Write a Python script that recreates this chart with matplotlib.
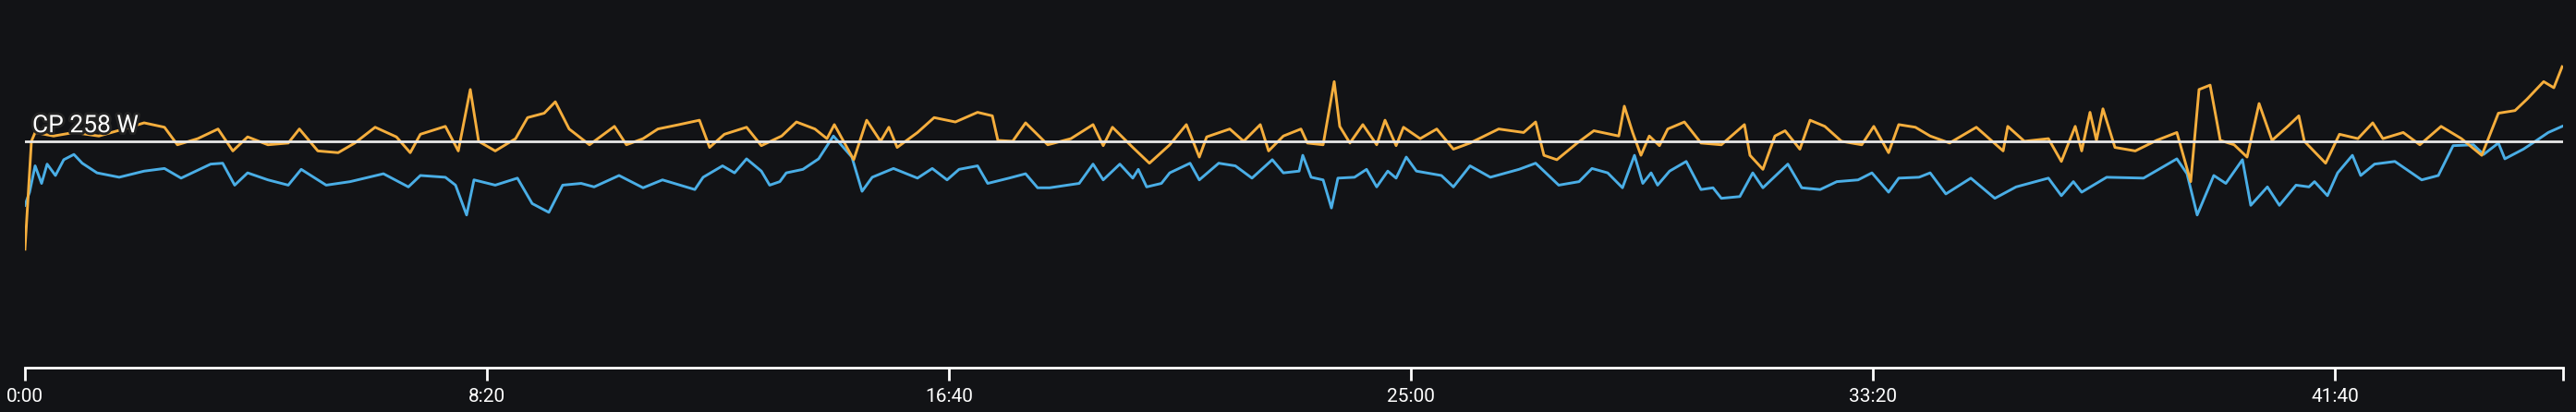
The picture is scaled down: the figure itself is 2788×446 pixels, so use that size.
import matplotlib
matplotlib.use("Agg")
import matplotlib.pyplot as plt
import matplotlib.patheffects as pe
import numpy as np

CP = 258
x_end = 2747

# power (orange), seconds / watts
power_t = [0, 7, 11, 31, 53, 80, 107, 129, 151, 165, 187, 209, 225, 241, 263, 285, 297, 317, 339, 357,
           379, 402, 417, 428, 455, 469, 482, 491, 509, 531, 544, 562, 574, 589, 611, 638, 651, 669,
           685, 708, 730, 741, 757, 781, 797, 819, 835, 855, 868, 876, 897, 911, 926, 935, 944, 966,
           984, 1007, 1031, 1047, 1053, 1069, 1083, 1107, 1132, 1156, 1167, 1177, 1199, 1217, 1239,
           1257, 1271, 1279, 1304, 1319, 1337, 1346, 1362, 1381, 1388, 1405, 1417, 1423, 1434, 1448,
           1463, 1472, 1484, 1492, 1510, 1528, 1546, 1564, 1595, 1622, 1635, 1644, 1658, 1680, 1698,
           1725, 1731, 1740, 1749, 1758, 1769, 1778, 1796, 1814, 1836, 1861, 1867, 1881, 1894, 1905,
           1921, 1932, 1948, 1966, 1988, 2001, 2017, 2028, 2046, 2062, 2083, 2112, 2141, 2146, 2164,
           2190, 2204, 2219, 2226, 2235, 2242, 2249, 2262, 2284, 2307, 2329, 2344, 2353, 2365, 2376,
           2391, 2405, 2418, 2432, 2449, 2461, 2467, 2490, 2505, 2525, 2541, 2552, 2574, 2592, 2615,
           2637, 2659, 2677, 2695, 2708, 2726, 2737, 2746]
power_w = [135, 258, 268, 264, 268, 264, 272, 279, 274, 254, 261, 272, 247, 263, 254, 256, 272, 247, 245, 256,
           274, 263, 245, 266, 275, 247, 317, 258, 247, 261, 285, 290, 303, 272, 254, 275, 254, 261,
           272, 277, 282, 251, 266, 274, 253, 264, 280, 272, 261, 277, 237, 282, 258, 274, 251, 268,
           285, 280, 291, 287, 259, 258, 279, 254, 261, 277, 253, 274, 251, 233, 254,
           277, 240, 263, 272, 258, 277, 247, 264, 272, 256, 254, 326, 275, 256, 277,
           254, 282, 253, 274, 261, 272, 249, 256, 272, 268, 280, 242, 237, 256, 270,
           264, 298, 268, 242, 264, 253, 272, 280, 256, 254, 277, 242, 226, 264, 270,
           249, 282, 275, 258, 254, 275, 245, 277, 274, 264, 256, 274, 247, 275, 258,
           261, 235, 275, 247, 291, 259, 295, 251, 247, 259, 268, 212, 317, 322, 259,
           254, 240, 301, 259, 275, 287, 258, 233, 266, 261, 279, 261, 268, 254, 275,
           261, 242, 290, 293, 306, 326, 319, 343]

# second series (blue)
blue_t = [0, 5, 11, 18, 24, 33, 42, 53, 62, 78, 102, 129, 151, 169, 201, 214, 227, 241, 263, 285, 299,
          326, 352, 388, 415, 428, 455, 466, 478, 486, 509, 533, 549, 567, 582, 602, 616, 643, 669,
          690, 725, 734, 755, 768, 781, 797, 806, 817, 824, 842, 859, 875, 895, 906, 917, 940, 966,
          982, 998, 1011, 1031, 1042, 1065, 1083, 1096, 1109, 1141, 1156, 1167, 1185, 1199, 1205,
          1214, 1230, 1239, 1261, 1271, 1292, 1310, 1328, 1350, 1362, 1379, 1383, 1392, 1405, 1414,
          1421, 1439, 1452, 1463, 1475, 1484, 1495, 1506, 1533, 1546, 1564, 1586, 1617, 1635, 1660,
          1682, 1696, 1713, 1729, 1742, 1751, 1760, 1767, 1780, 1798, 1814, 1827, 1836, 1856, 1870,
          1881, 1908, 1923, 1943, 1961, 1984, 1999, 2017, 2028, 2050, 2062, 2079, 2106, 2132, 2155,
          2190, 2204, 2217, 2226, 2253, 2293, 2311, 2329, 2340, 2351, 2369, 2382, 2400, 2409, 2427,
          2440, 2458, 2472, 2478, 2492, 2503, 2519, 2528, 2543, 2565, 2594, 2612, 2628, 2650, 2661,
          2677, 2684, 2704, 2717, 2731, 2746]
blue_w = [185, 200, 230, 210, 232, 219, 237, 243, 233, 222, 217, 224, 227, 216, 232, 233, 208, 222, 214, 208, 226,
          208, 212, 221, 206, 219, 217, 208, 174, 214, 208, 216, 187, 177, 208, 210, 206, 219, 205,
          214, 203, 217, 230, 222, 238, 224, 208, 212, 222, 226, 238, 264, 240, 201, 217, 227, 216,
          227, 214, 226, 230, 210, 216, 221, 205, 205, 210, 232, 214, 232, 216, 226,
          206, 210, 222, 233, 214, 233, 230, 216, 237, 222, 224, 242, 217, 214, 182,
          216, 217, 226, 206, 224, 216, 240, 224, 219, 206, 230, 217, 226, 233, 208,
          212, 227, 222, 205, 242, 210, 222, 208, 224, 235, 203, 205, 193, 195, 222,
          205, 232, 205, 203, 212, 214, 222, 200, 216, 217, 222, 198, 216, 193, 206,
          216, 196, 212, 200, 217, 216, 227, 238, 221, 174, 219, 210, 237, 185, 206,
          185, 208, 206, 212, 196, 222, 242, 219, 232, 235, 214, 219, 253, 254, 243,
          256, 238, 249, 258, 268, 275]

tick_s = [0, 500, 1000, 1500, 2000, 2500]
tick_labels = ["0:00", "8:20", "16:40", "25:00", "33:20", "41:40"]

bg = "#121316"
fig = plt.figure(figsize=(27.88, 4.46), dpi=100, facecolor=bg)
ax = fig.add_axes([27 / 2788, 48 / 446, (2774 - 27) / 2788, 398 / 446])
ax.set_facecolor(bg)

ax.plot(blue_t, blue_w, color="#4aaee6", lw=2.1, solid_joinstyle="round")
ax.plot(power_t, power_w, color="#f5ae3d", lw=2.1, solid_joinstyle="round")
ax.axhline(CP, color="#e8e8e8", lw=2)
ax.text(8, CP + 5, "CP %d W" % CP, color="white", fontsize=19, family="Roboto",
        fontstretch="condensed", va="bottom", ha="left",
        path_effects=[pe.withStroke(linewidth=4, foreground="#222222")])

ax.set_xlim(0, x_end)
ax.set_ylim(0, 419)
for s in ["top", "left", "right"]:
    ax.spines[s].set_visible(False)
ax.spines["bottom"].set_color("white")
ax.spines["bottom"].set_linewidth(2)
ax.set_yticks([])
ax.set_xticks(tick_s + [x_end])
ax.set_xticklabels(tick_labels + [""])
ax.tick_params(axis="x", colors="white", length=10, width=2, labelsize=15, pad=6)
for lbl in ax.get_xticklabels():
    lbl.set_family("Roboto")

fig.savefig("out.png", dpi=100, facecolor=bg)
